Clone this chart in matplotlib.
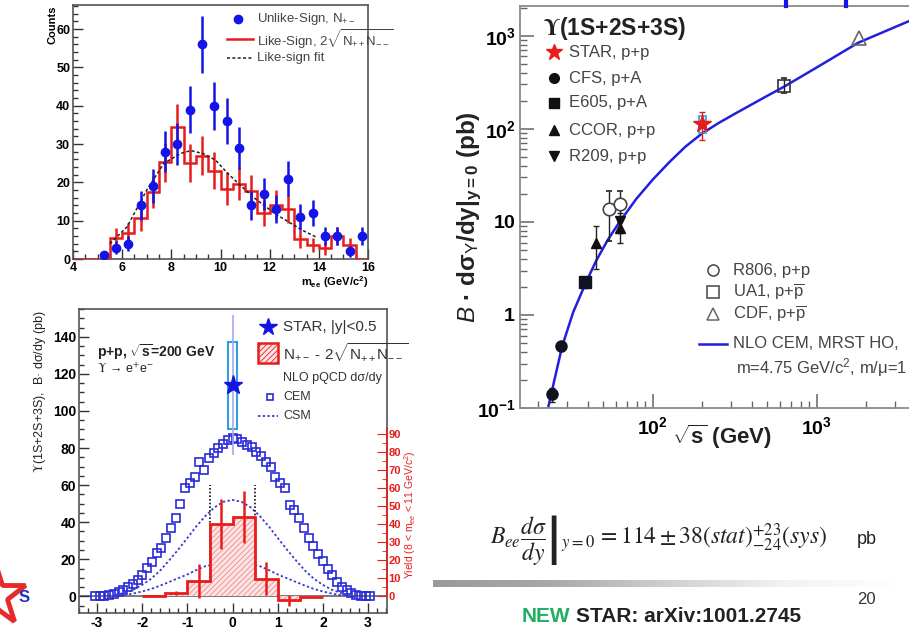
import numpy as np
import matplotlib
matplotlib.use('Agg')
import matplotlib.pyplot as plt
from matplotlib.ticker import MultipleLocator, FixedLocator, NullFormatter, LogLocator
from matplotlib.colors import LinearSegmentedColormap
from matplotlib.patches import Rectangle

plt.rcParams['font.family'] = ['Liberation Sans', 'DejaVu Sans']
plt.rcParams['mathtext.fontset'] = 'custom'
plt.rcParams['mathtext.rm'] = 'Liberation Sans'
plt.rcParams['mathtext.it'] = 'Liberation Sans:italic'
plt.rcParams['mathtext.bf'] = 'Liberation Sans:bold'
plt.rcParams['hatch.linewidth'] = 0.6

W, H = 909, 636
BLUE = '#1414e6'
RED = '#e81c1c'
FRAME = '#555555'

# ---- top left: invariant mass, unlike vs like sign
unlike_x = [5.25, 5.75, 6.25, 6.75, 7.25, 7.75, 8.25, 8.75, 9.25, 9.75, 10.25,
            10.75, 11.25, 11.75, 12.25, 12.75, 13.25, 13.75, 14.25, 14.75, 15.25, 15.75]
unlike_n = [1, 3, 4, 14, 19, 28, 30, 39, 56, 40, 36, 29, 14, 17, 13, 21, 11, 12, 6, 6, 2, 6]
unlike_err = [1.0, 1.7, 2.0, 3.7, 4.4, 5.3, 5.5, 6.2, 7.5, 6.3, 6.0, 5.4, 3.7, 4.1,
              3.6, 4.6, 3.3, 3.5, 2.4, 2.4, 1.4, 2.4]
like_edges = np.arange(4.0, 16.01, 0.5)
like_n = [0, 0, 0, 5.6, 6.7, 10.6, 17.4, 25.2, 34.5, 25.1, 27.0, 23.0, 18.3, 19.7,
          17.8, 11.9, 14.2, 13.0, 5.2, 3.7, 2.8, 6.0, 3.7, 0]
like_err = [0, 0, 0, 2.4, 2.6, 3.3, 4.2, 5.0, 5.9, 5.0, 5.2, 4.8, 4.3, 4.4, 4.2,
            3.4, 3.8, 3.6, 2.3, 1.9, 1.7, 2.4, 1.9, 0]
fit_x = [5.5, 6.2, 7.0, 7.7, 8.4, 8.8, 9.3, 9.8, 10.3, 11.3, 12.2, 13.3, 13.9]
fit_y = [4.0, 8.4, 18.0, 25.0, 27.6, 28.3, 27.5, 25.8, 22.3, 16.3, 11.9, 7.6, 5.7]

# ---- bottom left: dsigma/dy vs rapidity
cem_x = np.linspace(-3.05, 3.05, 59)
cem_y = [0, 0, 0.2, 0.5, 1.2, 2.3, 3.6, 5.0, 6.9, 9.0, 11.7, 15.3, 18.6, 23.6, 26.3,
         31.6, 36.6, 42.0, 50.0, 58.3, 61.0, 64.6, 72.7, 68.2, 74.5, 77.2, 80.0, 82.3,
         84.5, 85.5,
         85.0, 83.5, 81.7, 80.4, 77.6, 75.8, 72.2, 70.0, 64.6, 61.0, 58.6, 49.2, 46.5,
         42.0, 36.6, 31.2, 27.0, 23.0, 19.0, 15.0, 11.4, 7.8, 5.0, 3.2, 1.8, 0.5, 0.1, 0, 0]
csm_x = [-2.6, -2.4, -2.2, -2.0, -1.8, -1.6, -1.4, -1.2, -1.0, -0.8, -0.6, -0.4, -0.2, 0.0,
         0.2, 0.4, 0.6, 0.8, 1.0, 1.2, 1.4, 1.6, 1.8, 2.0, 2.2, 2.4, 2.6]
csm_hi = [0.8, 1.8, 3.5, 6.2, 9.5, 14.0, 19.5, 25.3, 31.5, 37.8, 43.4, 48.0, 51.0, 52.0,
          51.0, 48.0, 43.4, 37.8, 31.5, 25.3, 19.5, 14.0, 9.5, 6.2, 3.5, 1.8, 0.8]
csm_lo = [0.1, 0.6, 1.5, 2.6, 4.0, 5.8, 7.8, 9.8, 11.8, 14.2, 16.3, 17.3, 17.9, 18.0,
          17.9, 17.3, 16.3, 14.2, 11.8, 9.8, 7.8, 5.8, 4.0, 2.6, 1.5, 0.6, 0.1]
yield_edges = [-2.0, -1.5, -1.0, -0.5, 0.0, 0.5, 1.0, 1.5, 2.0]
yield_n = [0.0, 1.8, 8.5, 40.0, 44.0, 9.7, -2.3, -0.4]
yield_err = [0.0, 1.2, 9.2, 13.9, 14.3, 9.2, 3.1, 0.0]
star_y, star_val, star_stat, star_sys_lo, star_sys_hi = 0.0, 114, 38, 24, 23

# ---- right: cross section vs sqrt(s)
star_s, star_v = [200], [114]
cfs_s, cfs_v, cfs_e = [24.3, 27.4], [0.14, 0.46], [0.025, 0.05]
e605_s, e605_v, e605_e = [38.8], [2.26], [0.3]
ccor_s, ccor_v, ccor_lo, ccor_hi = [44.8, 63.0], [5.9, 8.6], [2.8, 2.7], [3.2, 2.4]
r209_s, r209_v, r209_e = [63.0], [10.1], [2.5]
r806_s, r806_v, r806_lo, r806_hi = [54.0, 63.0], [13.8, 15.7], [7.6, 5.7], [7.6, 5.7]
ua1_s, ua1_v, ua1_lo, ua1_hi = [630], [292], [52], [61]
cdf_s, cdf_v = [1800], [950]
nlo_s = [23.0, 24.1, 28.0, 32.7, 39.4, 45.4, 53.3, 63.0, 79.6, 100, 125.9, 158.5, 199.5,
         251, 316, 471, 630, 1000, 1786, 3640]
nlo_v = [0.100, 0.145, 0.459, 1.07, 2.30, 3.89, 6.46, 10.1, 17.8, 28.5, 43.7, 64.6, 89.1,
         115, 145, 214, 283, 457, 841, 1435]


def px_axes(l, t, r, b, **kw):
  return fig.add_axes([l / W, 1 - b / H, (r - l) / W, (b - t) / H], **kw)


def root_style(ax, maj, mnr):
  for s in ['top', 'right', 'left', 'bottom']:
    ax.spines[s].set_color(FRAME)
    ax.spines[s].set_linewidth(1.2)
  ax.tick_params(which='both', direction='in', top=False, right=False, color='#333333')
  ax.tick_params(which='major', length=maj, width=1)
  ax.tick_params(which='minor', length=mnr, width=1)


fig = plt.figure(figsize=(W / 100, H / 100), dpi=100, facecolor='white')

# ================= top left
ax1 = px_axes(73, 5, 368, 259)
root_style(ax1, 7, 3.5)
ax1.set_xlim(4, 16)
ax1.set_ylim(0, 66.3)
ax1.set_xticks(range(4, 17, 2), [str(v) for v in range(4, 17, 2)], fontweight='bold', fontsize=9)
ax1.set_yticks(range(0, 61, 10), [str(v) for v in range(0, 61, 10)], fontweight='bold', fontsize=9)
ax1.xaxis.set_minor_locator(MultipleLocator(0.5))
ax1.yaxis.set_minor_locator(MultipleLocator(2))
ax1.tick_params(axis='both', pad=2)
ax1.stairs(like_n, like_edges, color=RED, lw=1.8, baseline=None, zorder=3)
lc = (like_edges[:-1] + like_edges[1:]) / 2
sel = [i for i in range(len(like_n)) if like_err[i] > 0]
ax1.errorbar([lc[i] for i in sel], [like_n[i] for i in sel], yerr=[like_err[i] for i in sel],
             fmt='none', ecolor=RED, elinewidth=1.8, zorder=3)
ax1.plot(fit_x, fit_y, color='#222222', ls=(0, (2, 1.5)), lw=1.1, zorder=4)
ax1.errorbar(unlike_x, unlike_n, yerr=unlike_err, fmt='o', color=BLUE, ms=6,
             elinewidth=1.8, capsize=0, zorder=5)

# ================= bottom left
ax3 = px_axes(79, 309, 387, 613)
root_style(ax3, 7, 3.5)
ax3.set_xlim(-3.4, 3.42)
ax3.set_ylim(-9, 155)
ax3.set_xticks(range(-3, 4), [str(v) for v in range(-3, 4)], fontweight='bold', fontsize=10)
ax3.set_yticks(range(0, 141, 20), [str(v) for v in range(0, 141, 20)], fontweight='bold', fontsize=10)
ax3.xaxis.set_minor_locator(MultipleLocator(0.2))
ax3.yaxis.set_minor_locator(MultipleLocator(5))
ax3.tick_params(axis='both', pad=2)
ax3.axhline(0, color='#555555', lw=1.1, zorder=1)
ax3.plot(cem_x, cem_y, ls='none', marker='s', ms=6, mfc='none', mec='#2a2ad8', mew=1.2, zorder=3)
ax3.plot(csm_x, csm_hi, color='#3a3ad0', ls=(0, (1.3, 1.3)), lw=1.3, zorder=3)
ax3.plot(csm_x, csm_lo, color='#3a3ad0', ls=(0, (1.3, 1.3)), lw=1.3, zorder=3)
ax3.vlines([-0.5, 0.5], 0, 60, colors='#111111', linestyles=(0, (1, 1.2)), lw=1.2, zorder=4)
ax3.add_patch(Rectangle((star_y - 0.1, star_val - star_sys_lo), 0.2, star_sys_lo + star_sys_hi,
                        fill=False, ec='#2fa0e0', lw=1.5, zorder=5))
ax3.errorbar([star_y], [star_val], yerr=[star_stat], fmt='*', color=BLUE, ms=14,
             ecolor='#a8a8f4', elinewidth=1.2, zorder=6)

ax2 = ax3.twinx()
ax2.set_ylim(-9.24, 159.1)
for s in ['top', 'left', 'bottom']:
  ax2.spines[s].set_visible(False)
ax2.spines['right'].set_color(RED)
ax2.spines['right'].set_bounds(0, 93)
ax2.spines['right'].set_linewidth(1.2)
ax2.set_yticks(range(0, 91, 10), [str(v) for v in range(0, 91, 10)], fontweight='bold',
               fontsize=8, color=RED)
ax2.yaxis.set_minor_locator(FixedLocator(list(range(5, 90, 10))))
ax2.tick_params(which='both', direction='in', color=RED, pad=1)
ax2.tick_params(which='major', length=7)
ax2.tick_params(which='minor', length=3.5)
ax2.stairs(yield_n, yield_edges, fill=True, facecolor='#fde4e4', edgecolor='#ef8a8a',
           hatch='//////', lw=0, zorder=2)
ax2.stairs(yield_n, yield_edges, color=RED, lw=2, baseline=None, zorder=3)
yc = [(yield_edges[i] + yield_edges[i + 1]) / 2 for i in range(len(yield_n))]
sel = [i for i in range(len(yield_n)) if yield_err[i] > 0]
ax2.errorbar([yc[i] for i in sel], [yield_n[i] for i in sel], yerr=[yield_err[i] for i in sel],
             fmt='none', ecolor=RED, elinewidth=1.8, zorder=3)

# ================= right
ax4 = px_axes(520, 6, 909, 408)
for s in ['top', 'left', 'bottom']:
  ax4.spines[s].set_color('#8a8a8a')
  ax4.spines[s].set_linewidth(1.3)
ax4.spines['right'].set_visible(False)
ax4.set_xscale('log')
ax4.set_yscale('log')
ax4.set_xlim(15.5, 3650)
ax4.set_ylim(0.1, 2090)
ax4.set_xticks([100, 1000], [r'$\mathbf{10^{2}}$', r'$\mathbf{10^{3}}$'], fontsize=14)
ax4.set_yticks([0.1, 1, 10, 100, 1000],
               [r'$\mathbf{10^{-1}}$', r'$\mathbf{1}$', r'$\mathbf{10}$', r'$\mathbf{10^{2}}$',
                r'$\mathbf{10^{3}}$'], fontsize=14)
ax4.xaxis.set_minor_locator(LogLocator(subs=range(2, 10), numticks=20))
ax4.yaxis.set_minor_locator(LogLocator(subs=range(2, 10), numticks=20))
ax4.xaxis.set_minor_formatter(NullFormatter())
ax4.yaxis.set_minor_formatter(NullFormatter())
ax4.tick_params(which='both', direction='in', top=False, right=False, color='#666666')
ax4.tick_params(which='major', length=10, width=1.1)
ax4.tick_params(which='minor', length=5, width=1)
ax4.tick_params(axis='x', pad=6)
ax4.tick_params(axis='y', pad=3)
ax4.plot(nlo_s, nlo_v, color='#2020dd', lw=1.8, zorder=2)
ek = dict(ecolor='#222222', elinewidth=1, capsize=2, zorder=3)
ax4.errorbar(cfs_s, cfs_v, yerr=cfs_e, fmt='o', color='#111122', ms=8, **ek)
ax4.errorbar(e605_s, e605_v, yerr=e605_e, fmt='s', color='#111122', ms=8, **ek)
ax4.errorbar(ccor_s, ccor_v, yerr=[ccor_lo, ccor_hi], fmt='^', color='#111111', ms=7, **ek)
ax4.errorbar(r209_s, r209_v, yerr=r209_e, fmt='v', color='#111111', ms=7, **ek)
ax4.errorbar(r806_s, r806_v, yerr=[r806_lo, r806_hi], fmt='o', mfc='white', mec='#444444',
             ms=9, mew=1.2, **ek)
ax4.errorbar(ua1_s, ua1_v, yerr=[ua1_lo, ua1_hi], fmt='s', mfc='none', mec='#333333',
             ms=9, mew=1.2, **ek)
ax4.plot(cdf_s, cdf_v, ls='none', marker='^', mfc='none', mec='#666666', ms=10, mew=1.2, zorder=3)
ax4.add_patch(Rectangle((190, 90), 21, 47, fill=False, ec='#38a8e0', lw=1.3, zorder=4))
ax4.errorbar(star_s, star_v, yerr=[[38], [38]], fmt='*', color=RED, ms=13,
             ecolor=RED, elinewidth=1, capsize=2, zorder=5)

# ================= overlay (texts, legends, page decoration), pixel coordinates
axo = fig.add_axes([0, 0, 1, 1], zorder=10)
axo.set_xlim(0, W)
axo.set_ylim(H, 0)
axo.axis('off')
axo.patch.set_alpha(0)

# top left labels / legend
axo.text(52, 6, 'Counts', rotation=90, ha='center', va='top', fontsize=8, fontweight='bold')
axo.text(368, 282, r'm$_{\mathbf{ee}}$ (GeV/c$^{\mathbf{2}}$)', ha='right', va='center',
         fontsize=8, fontweight='bold')
axo.plot([238], [19], 'o', color=BLUE, ms=6)
axo.plot([227, 253], [39, 39], color=RED, lw=1.8)
axo.plot([227, 253], [58, 58], color='#222222', ls=(0, (2, 1.5)), lw=1.1)
tl = dict(fontsize=9.5, color='#444444', va='center', ha='left')
axo.text(257, 19, r'Unlike-Sign, N$_{+-}$', **tl)
axo.text(257, 39, r'Like-Sign, 2$\sqrt{\mathrm{N_{++}N_{--}}}$', **tl)
axo.text(257, 58, 'Like-sign fit', **tl)

# bottom left labels / legend
axo.text(40, 311, r'$\Upsilon$(1S+2S+3S),  B· dσ/dy (pb)', rotation=90, ha='center', va='top',
         fontsize=9, color='#222222', math_fontfamily='stix')
axo.text(410, 515, r'Yield (8 < m$_{ee}$ < 11 GeV/c$^{2}$)', rotation=90, ha='center',
         va='center', fontsize=7.5, color=RED)
axo.text(97, 352, r'p+p, $\sqrt{\mathbf{s}}$=200 GeV', fontsize=10, fontweight='bold',
         va='center', color='#222222')
axo.text(97, 369, r'$\Upsilon$ → e$^{+}$e$^{-}$', fontsize=9, va='center', color='#222222',
         math_fontfamily='stix')
axo.plot([268], [327], '*', color=BLUE, ms=13)
axo.add_patch(Rectangle((258, 343), 20, 20, facecolor='#fde4e4', edgecolor=RED, lw=1.8,
                        hatch='//////'))
axo.plot([270], [397], 's', mfc='none', mec='#2a2ad8', ms=5, mew=1.2)
axo.plot([258, 278], [416, 416], color='#3a3ad0', ls=(0, (1.3, 1.3)), lw=1.3)
bl = dict(va='center', ha='left', color='#333333')
axo.text(283, 327, 'STAR, |y|<0.5', fontsize=11, **bl)
axo.text(283, 353, r'N$_{+-}$ - 2$\sqrt{\mathrm{N_{++}N_{--}}}$', fontsize=11, **bl)
axo.text(283, 378, 'NLO pQCD dσ/dy', fontsize=9, **bl)
axo.text(283, 397, 'CEM', fontsize=9, **bl)
axo.text(283, 416, 'CSM', fontsize=9, **bl)

# right panel labels / legend
axo.text(470, 217, r'$\mathit{B}$ · dσ$_{\Upsilon}$/dy|$_{\mathbf{y=0}}$ (pb)', rotation=90,
         ha='center', va='center', fontsize=17.5, fontweight='bold', color='#222222')
axo.text(672, 437, r'$\sqrt{\mathbf{s}}$ (GeV)', ha='left', va='center', fontsize=16,
         fontweight='bold', color='#222222')
axo.text(543, 28, r'$\mathbf{\Upsilon}$(1S+2S+3S)', ha='left', va='center', fontsize=16.5,
         fontweight='bold', color='#222222', math_fontfamily='stix')
rl = dict(va='center', ha='left', color='#444444', fontsize=12)
axo.plot([554], [52], '*', color=RED, ms=12)
axo.plot([554], [78], 'o', color='#111111', ms=7)
axo.plot([554], [103], 's', color='#111111', ms=7)
axo.plot([554], [130], '^', color='#111111', ms=7)
axo.plot([554], [156], 'v', color='#111111', ms=7)
axo.text(569, 52, 'STAR, p+p', **rl)
axo.text(569, 78, 'CFS, p+A', **rl)
axo.text(569, 103, 'E605, p+A', **rl)
axo.text(569, 130, 'CCOR, p+p', **rl)
axo.text(569, 156, 'R209, p+p', **rl)
axo.plot([713], [270], 'o', mfc='white', mec='#444444', ms=8, mew=1.1)
axo.plot([713], [292], 's', mfc='white', mec='#444444', ms=8, mew=1.1)
axo.plot([713], [314], '^', mfc='white', mec='#666666', ms=8, mew=1.1)
axo.plot([699, 727], [344, 344], color='#2020dd', lw=1.8)
axo.text(733, 270, 'R806, p+p', **rl)
axo.text(733, 292, r'UA1, p+$\overline{\mathrm{p}}$', **rl)
axo.text(733, 314, r'CDF, p+$\overline{\mathrm{p}}$', **rl)
axo.text(733, 344, 'NLO CEM, MRST HO,', **rl)
axo.text(736, 368, r'm=4.75 GeV/c$^{2}$, m/μ=1', **rl)

# blue bars peeking from above the right panel
axo.plot([786, 786], [0, 6], color='#1515ee', lw=3)
axo.plot([846, 846], [0, 6], color='#1515ee', lw=3)

# result formula
axo.text(490, 540, r'$B_{ee}\left.\dfrac{d\sigma}{dy}\right|_{y=0}\,=114\pm38(stat)^{+23}_{-24}(sys)$',
         ha='left', va='center', fontsize=17, color='#222222', math_fontfamily='stix')
axo.text(857, 540, 'pb', ha='left', va='center', fontsize=13, color='#222222')
axo.text(857, 600, '20', ha='left', va='center', fontsize=12, color='#333333')
t_new = axo.text(522, 617, 'NEW', ha='left', va='center', fontsize=15, fontweight='bold',
                 color='#1fae62')
fig.canvas.draw()
bb = t_new.get_window_extent()
axo.text(bb.x1 + 5, 617, 'STAR: arXiv:1001.2745', ha='left', va='center', fontsize=15,
         fontweight='bold', color='#222222')

# STAR logo fragment
axo.plot([-5], [595], marker='*', ms=46, mfc='white', mec='#e52b2b', mew=3.5)
axo.text(24, 598, 'S', ha='center', va='center', fontsize=12, fontweight='bold', color='#2233cc')

# grey gradient rule
axg = px_axes(433, 580, 900, 587, zorder=9)
gcm = LinearSegmentedColormap.from_list('rule', ['#9a9a9a', '#a8a8a8', '#cfcfcf', '#f2f2f2', '#ffffff'])
axg.imshow(np.linspace(0, 1, 256)[None, :], cmap=gcm, aspect='auto')
axg.axis('off')

fig.savefig('out.png', dpi=100, facecolor='white')
